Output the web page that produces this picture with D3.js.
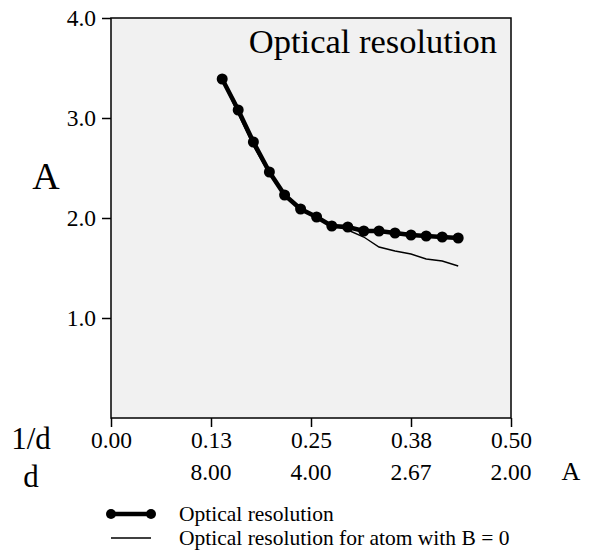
<!DOCTYPE html>
<html>
<head>
<meta charset="utf-8">
<script src="https://cdn.jsdelivr.net/npm/d3@7"></script>
<style>
  body { margin: 0; background: #fff; }
  svg text { font-family: "Liberation Serif", "Times New Roman", serif; fill: #000; }
</style>
</head>
<body>
<div id="graph"></div>
<script>
// data
let invD = [0.139, 0.159, 0.178, 0.198, 0.217, 0.237, 0.257, 0.276, 0.296, 0.316, 0.335, 0.355, 0.375, 0.394, 0.414, 0.434];
let optRes = [3.39, 3.08, 2.76, 2.46, 2.23, 2.09, 2.01, 1.92, 1.91, 1.87, 1.87, 1.85, 1.83, 1.82, 1.81, 1.80];
let optResB0 = [3.39, 3.04, 2.72, 2.44, 2.22, 2.09, 2.01, 1.93, 1.88, 1.81, 1.71, 1.67, 1.64, 1.59, 1.57, 1.52];

let xTicks = [0, 0.125, 0.25, 0.375, 0.5];
let xTickLabels = ['0.00', '0.13', '0.25', '0.38', '0.50'];
let dTickLabels = ['', '8.00', '4.00', '2.67', '2.00'];
let yTicks = [1, 2, 3, 4];

drawChart();

function drawChart() {
  let svg = d3.select('#graph').append('svg')
              .attr('width', 589)
              .attr('height', 550);

  let margin = {top: 18, right: 78, bottom: 132, left: 111},
      width = 589 - margin.left - margin.right,
      height = 550 - margin.top - margin.bottom;

  let xScale = d3.scaleLinear()
                .domain([0, 0.5])
                .range([margin.left, margin.left + width]);

  let yScale = d3.scaleLinear()
                .domain([0, 4])
                .range([margin.top + height, margin.top]);

  // plot background + frame
  svg.append('rect')
      .attr('x', margin.left)
      .attr('y', margin.top)
      .attr('width', width)
      .attr('height', height)
      .attr('fill', '#f1f1f1')
      .attr('stroke', '#000')
      .attr('stroke-width', 1.5);

  // y axis
  let yAxis = svg.append('g')
        .attr('transform', 'translate(' + margin.left + ',0)')
        .call(d3.axisLeft(yScale).tickValues(yTicks).tickFormat(d3.format('.1f')).tickSize(9).tickPadding(6));
  yAxis.select('.domain').remove();
  yAxis.selectAll('line').attr('stroke-width', 1.5);
  yAxis.selectAll('text')
        .style('font-family', '"Liberation Serif", serif')
        .attr('font-size', 23.5);

  // x axis (1/d)
  let xAxis = svg.append('g')
        .attr('transform', 'translate(0,' + (margin.top + height) + ')')
        .call(d3.axisBottom(xScale).tickValues(xTicks).tickFormat((d, i) => xTickLabels[i]).tickSize(9).tickPadding(4));
  xAxis.select('.domain').remove();
  xAxis.selectAll('line').attr('stroke-width', 1.5);
  xAxis.selectAll('text')
        .style('font-family', '"Liberation Serif", serif')
        .attr('font-size', 23.5);

  // second row: d
  svg.append('g').selectAll('text')
        .data(xTicks)
      .enter().append('text')
        .attr('x', (d) => xScale(d))
        .attr('y', 480)
        .attr('text-anchor', 'middle')
        .attr('font-size', 23.5)
        .text((d, i) => dTickLabels[i]);

  svg.append('text').attr('x', 31).attr('y', 449).attr('text-anchor', 'middle').attr('font-size', 31).text('1/d');
  svg.append('text').attr('x', 31).attr('y', 487).attr('text-anchor', 'middle').attr('font-size', 31).text('d');
  svg.append('text').attr('x', 571).attr('y', 480).attr('text-anchor', 'middle').attr('font-size', 26).text('A');
  svg.append('text').attr('x', 46).attr('y', 189).attr('text-anchor', 'middle').attr('font-size', 38).text('A');

  // title inside the plot
  svg.append('text')
      .attr('x', 497)
      .attr('y', 53)
      .attr('text-anchor', 'end')
      .attr('font-size', 34.5)
      .text('Optical resolution');

  let line = d3.line()
               .x((d) => xScale(d[0]))
               .y((d) => yScale(d[1]));

  let thinPts = invD.map((x, i) => [x, optResB0[i]]);
  let thickPts = invD.map((x, i) => [x, optRes[i]]);

  svg.append('path')
      .datum(thinPts)
      .attr('d', line)
      .attr('fill', 'none')
      .attr('stroke', '#000')
      .attr('stroke-width', 1.4);

  svg.append('path')
      .datum(thickPts)
      .attr('d', line)
      .attr('fill', 'none')
      .attr('stroke', '#000')
      .attr('stroke-width', 4.5);

  svg.selectAll('circle.pt')
        .data(thickPts)
      .enter().append('circle')
        .attr('class', 'pt')
        .attr('cx', (d) => xScale(d[0]))
        .attr('cy', (d) => yScale(d[1]))
        .attr('r', 5.5)
        .attr('fill', '#000');

  // legend
  let legend = svg.append('g');
  legend.append('line').attr('x1', 111).attr('x2', 151).attr('y1', 514).attr('y2', 514)
        .attr('stroke', '#000').attr('stroke-width', 4.5);
  legend.append('circle').attr('cx', 111).attr('cy', 514).attr('r', 5).attr('fill', '#000');
  legend.append('circle').attr('cx', 151).attr('cy', 514).attr('r', 5).attr('fill', '#000');
  legend.append('text').attr('x', 179).attr('y', 521).attr('font-size', 21.5).text('Optical resolution');

  legend.append('line').attr('x1', 111).attr('x2', 151).attr('y1', 538).attr('y2', 538)
        .attr('stroke', '#000').attr('stroke-width', 1.4);
  legend.append('text').attr('x', 179).attr('y', 545).attr('font-size', 21.5).text('Optical resolution for atom with B = 0');
}
</script>
</body>
</html>
